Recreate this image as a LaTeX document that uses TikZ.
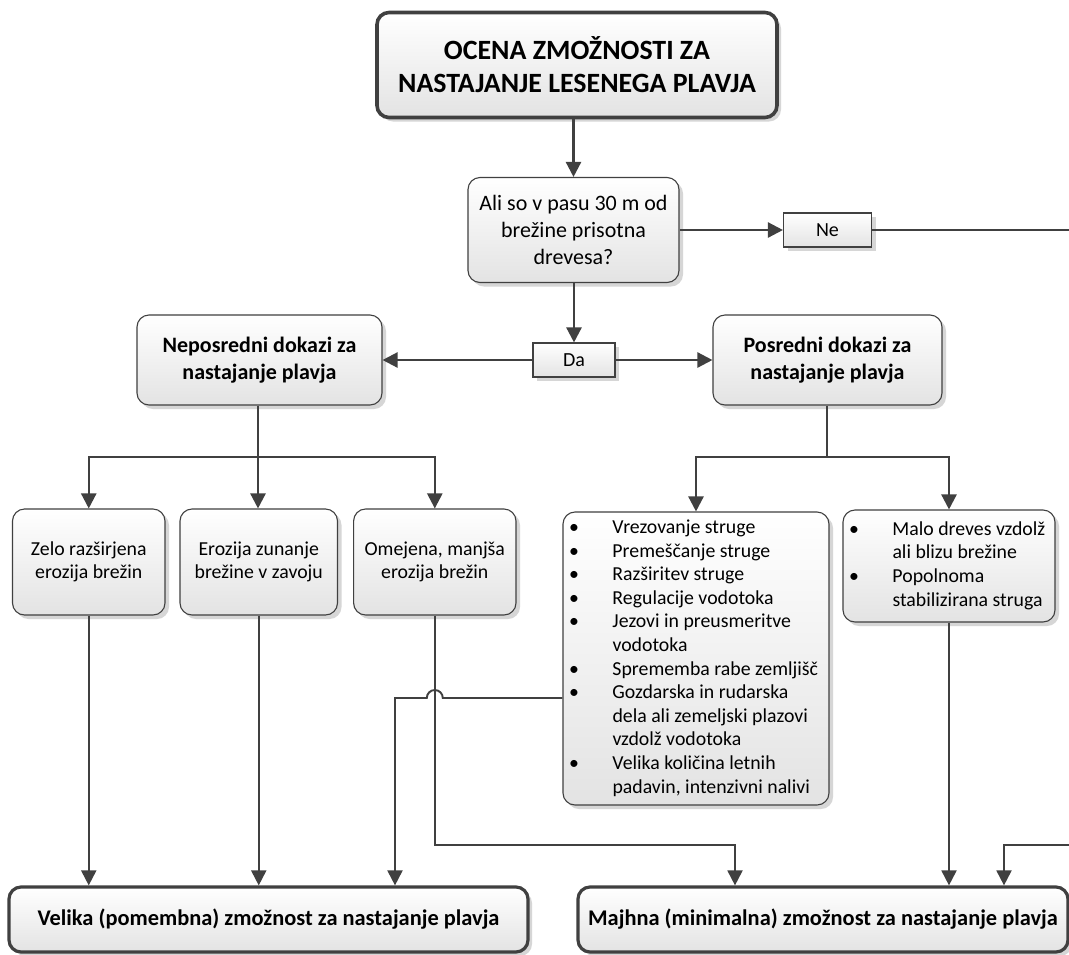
\documentclass[tikz,border=0pt]{standalone}
\usepackage{fontspec}
\usepackage{array}
\setmainfont{Carlito}
\usetikzlibrary{arrows.meta,shadows}
\definecolor{lineclr}{HTML}{404040}
\definecolor{boxend}{HTML}{E3E3E3}
\definecolor{shadowclr}{HTML}{D6D6D6}
\newcommand\qfont{\fontsize{22}{26.7}\selectfont}
\newcommand\hfont{\fontsize{22}{26.7}\selectfont\bfseries}
\newcommand\bfont{\fontsize{22.4}{26.7}\selectfont\bfseries}
\newcommand\sfont{\fontsize{19.8}{23.6}\selectfont}
\newcommand\tfont{\fontsize{27.9}{33}\selectfont\bfseries}
\newcommand\bul{\hspace{2pt}\textbullet}
\tikzset{
  shadowed/.style={drop shadow={shadow xshift=4pt,shadow yshift=-4pt,fill=shadowclr,opacity=1}},
  box/.style={draw=lineclr,line width=1.1pt,rounded corners=12pt,top color=white,bottom color=boxend,
    shadowed,align=center,inner sep=0pt,font=\qfont},
  smallbox/.style={box,font=\sfont},
  headbox/.style={box,font=\hfont},
  listbox/.style={draw=lineclr,line width=1.1pt,rounded corners=12pt,top color=white,bottom color=boxend,
    shadowed,font=\sfont,inner xsep=4pt,inner ysep=0pt},
  bigbox/.style={box,line width=3.2pt,font=\bfont},
  titlebox/.style={box,line width=3.6pt,font=\tfont},
  labbox/.style={draw=lineclr,line width=1.1pt,top color=white,bottom color=boxend,shadowed,
    inner sep=0pt,font=\fontsize{20}{24}\selectfont,minimum width=84pt,minimum height=34pt},
  conn/.style={draw=lineclr,line width=2.4pt},
  arr/.style={conn,-{Triangle[length=15pt,width=15pt]}},
  connlow/.style={draw=lineclr,line width=1.9pt},
  arrlow/.style={connlow,-{Triangle[length=15pt,width=15pt]}},
}
\begin{document}
\begin{tikzpicture}[x=1pt,y=-1pt]
\useasboundingbox (0,0) rectangle (1069,954);
\fill[white] (0,0) rectangle (1069,954);
\clip (0,0) rectangle (1069,954);

% nodes
\node[titlebox,minimum width=400pt,minimum height=105pt] (title) at (577,65)
  {OCENA ZMOŽNOSTI ZA\\NASTAJANJE LESENEGA PLAVJA};
\node[box,minimum width=211pt,minimum height=105pt] (q) at (573.5,230)
  {Ali so v pasu 30 m od\\brežine prisotna\\drevesa?};
\node[labbox,minimum width=88pt] (ne) at (827.5,230) {Ne};
\node[labbox,minimum width=82pt] (da) at (574,360) {Da};
\node[headbox,minimum width=245pt,minimum height=90pt] (nep) at (259.5,360)
  {Neposredni dokazi za\\nastajanje plavja};
\node[headbox,minimum width=229pt,minimum height=90pt] (pos) at (827.5,360)
  {Posredni dokazi za\\nastajanje plavja};
\node[smallbox,minimum width=152.5pt,minimum height=106pt] (z1) at (88.75,562)
  {Zelo razširjena\\erozija brežin};
\node[smallbox,minimum width=157.5pt,minimum height=106pt] (z2) at (258.75,562)
  {Erozija zunanje\\brežine v zavoju};
\node[smallbox,minimum width=162.4pt,minimum height=106pt] (z3) at (434.8,562)
  {Omejena, manjša\\erozija brežin};
\node[listbox,minimum width=266pt,minimum height=293pt] (L) at (696,658.5)
  {\begin{tabular}{@{}p{45.5pt}@{}>{\raggedright\arraybackslash}p{212.5pt}@{}}
   \bul & Vrezovanje struge\\
   \bul & Premeščanje struge\\
   \bul & Razširitev struge\\
   \bul & Regulacije vodotoka\\
   \bul & Jezovi in preusmeritve\newline vodotoka\\
   \bul & Sprememba rabe zemljišč\\
   \bul & Gozdarska in rudarska\newline dela ali zemeljski plazovi\newline vzdolž vodotoka\\
   \bul & Velika količina letnih\newline padavin, intenzivni nalivi
   \end{tabular}};
\node[listbox,minimum width=212pt,minimum height=112pt] (R) at (949,566)
  {\begin{tabular}{@{}p{45.5pt}@{}>{\raggedright\arraybackslash}p{158.5pt}@{}}
   \bul & Malo dreves vzdolž\newline ali blizu brežine\\
   \bul & Popolnoma\newline stabilizirana struga
   \end{tabular}};
\node[bigbox,minimum width=519pt,minimum height=65pt] (V) at (268.5,919.5)
  {Velika (pomembna) zmožnost za nastajanje plavja};
\node[bigbox,minimum width=490pt,minimum height=65pt] (M) at (823,919.5)
  {Majhna (minimalna) zmožnost za nastajanje plavja};

% helper coordinates
\coordinate (bl) at (258,457);
\coordinate (br) at (827,457);
\coordinate (hopL) at (395,698);
\coordinate (om) at (735,845);
\coordinate (ne1) at (1090,230);
\coordinate (ne2) at (1004,845);

% upper connectors
\draw[arr] (title.south -| q.north) -- (q.north);
\draw[arr] (q.south -| da.north) -- (da.north);
\draw[arr] (q.east) -- (ne.west);
\draw[arr] (da.west) -- (nep.east);
\draw[arr] (da.east) -- (pos.west);

\draw[conn] (nep.south -| bl) -- (bl);
\draw[arr] (bl) -| (z1.north);
\draw[arr] (bl) -- (z2.north -| bl);
\draw[arr] (bl) -| (z3.north);

\draw[conn] (pos.south -| br) -- (br);
\draw[arr] (br) -| (L.north);
\draw[arr] (br) -| (R.north);

% lower connectors
\draw[arrlow] (z1.south) -- (z1.south |- V.north);
\draw[arrlow] (z2.south) -- (z2.south |- V.north);
\draw[arrlow] (z3.south) -- (z3.south |- om) -- (om) -- (om |- M.north);
\draw[arrlow] (L.west |- hopL) -- (442.8,698) arc[start angle=0,end angle=180,radius=8pt]
  -- (hopL) -- (hopL |- V.north);
\draw[arrlow] (R.south) -- (R.south |- M.north);
\draw[arrlow] (ne.east) -- (ne1) -- (ne1 |- ne2) -- (ne2) -- (ne2 |- M.north);
\end{tikzpicture}
\end{document}
